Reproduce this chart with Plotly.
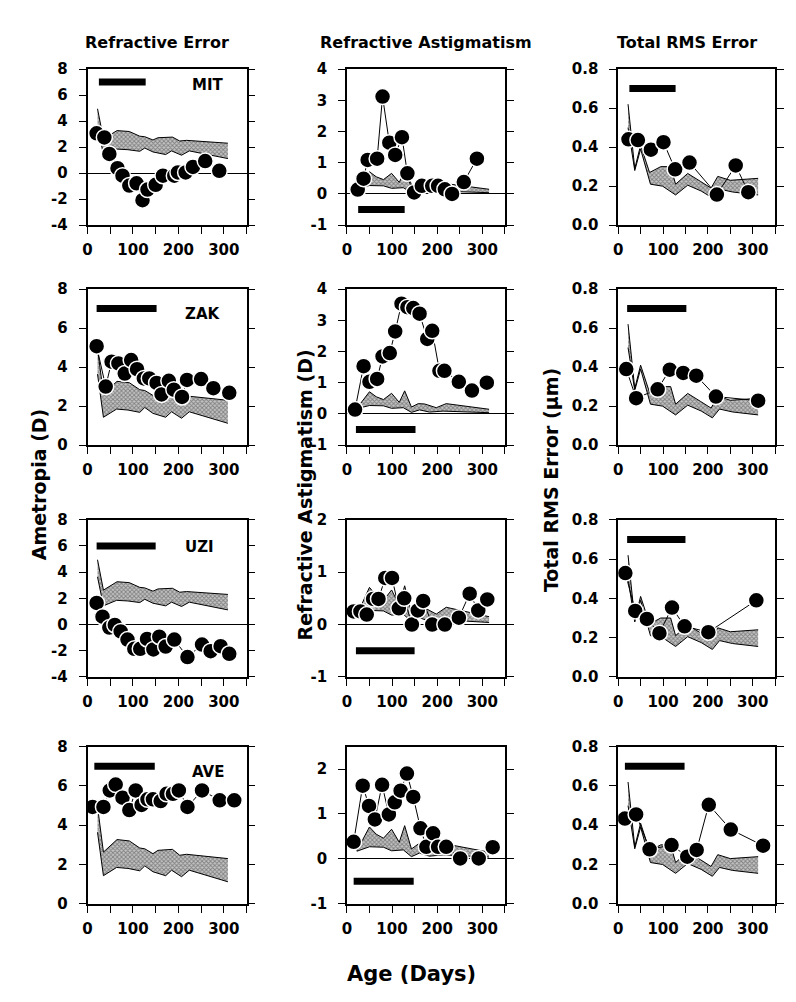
import plotly.graph_objects as go

# ---------------- data ----------------
subjects = ["MIT", "ZAK", "UZI", "AVE"]
col_titles = ["Refractive Error", "Refractive Astigmatism", "Total RMS Error"]

# Refractive error (D)
mit_re_x = [20, 37, 48, 66, 77, 92, 108, 121, 132, 150, 166, 191, 199, 216, 232, 259, 290]
mit_re_y = [3.06, 2.74, 1.48, 0.38, -0.2, -0.95, -0.78, -2.08, -1.26, -0.9, -0.2, -0.2, 0.05, 0.05, 0.48, 0.93, 0.18]
zak_re_x = [20, 40, 53, 68, 82, 96, 109, 124, 136, 152, 163, 179, 190, 208, 219, 250, 277, 312]
zak_re_y = [5.07, 3.0, 4.28, 4.19, 3.67, 4.36, 3.89, 3.42, 3.42, 3.19, 2.6, 3.3, 2.84, 2.47, 3.34, 3.39, 2.92, 2.68]
uzi_re_x = [20, 33, 48, 60, 73, 88, 103, 116, 131, 145, 158, 172, 191, 220, 252, 271, 293, 312]
uzi_re_y = [1.65, 0.6, -0.23, -0.03, -0.53, -1.15, -1.85, -1.85, -1.1, -1.9, -0.93, -1.68, -1.15, -2.48, -1.53, -2.03, -1.65, -2.23]
ave_re_x = [11, 35, 49, 62, 77, 92, 106, 119, 132, 144, 161, 174, 188, 201, 220, 252, 291, 323]
ave_re_y = [4.93, 4.93, 5.77, 6.07, 5.4, 4.77, 5.77, 5.03, 5.32, 5.32, 5.23, 5.6, 5.6, 5.77, 4.93, 5.77, 5.27, 5.27]

# Refractive astigmatism (D)
mit_as_x = [24, 37, 46, 67, 79, 94, 107, 122, 134, 149, 166, 189, 202, 217, 233, 259, 288]
mit_as_y = [0.14, 0.49, 1.09, 1.13, 3.12, 1.64, 1.25, 1.82, 0.66, 0.05, 0.26, 0.26, 0.26, 0.15, 0.0, 0.38, 1.13]
zak_as_x = [18, 37, 50, 67, 79, 95, 107, 121, 134, 147, 161, 178, 189, 205, 216, 248, 277, 310]
zak_as_y = [0.14, 1.53, 1.03, 1.12, 1.84, 1.95, 2.64, 3.53, 3.42, 3.39, 3.21, 2.4, 2.66, 1.38, 1.38, 1.03, 0.75, 1.0]
uzi_as_x = [15, 30, 44, 58, 70, 85, 100, 115, 127, 144, 157, 169, 189, 217, 248, 272, 291, 311]
uzi_as_y = [0.25, 0.25, 0.19, 0.49, 0.49, 0.89, 0.89, 0.31, 0.5, 0.0, 0.27, 0.45, 0.0, 0.0, 0.13, 0.59, 0.27, 0.48]
ave_as_x = [15, 35, 49, 62, 78, 93, 106, 119, 133, 147, 163, 176, 191, 202, 220, 251, 292, 323]
ave_as_y = [0.38, 1.63, 1.18, 0.88, 1.65, 0.99, 1.26, 1.52, 1.9, 1.38, 0.68, 0.27, 0.57, 0.27, 0.27, 0.01, 0.01, 0.26]

# Total RMS error (um)
mit_rms_x = [23, 44, 73, 101, 127, 159, 220, 262, 290]
mit_rms_y = [0.44, 0.436, 0.387, 0.425, 0.286, 0.321, 0.157, 0.306, 0.169]
zak_rms_x = [18, 40, 88, 115, 145, 174, 218, 312]
zak_rms_y = [0.39, 0.241, 0.286, 0.387, 0.37, 0.356, 0.249, 0.228]
uzi_rms_x = [16, 38, 64, 92, 120, 148, 201, 308]
uzi_rms_y = [0.529, 0.336, 0.295, 0.223, 0.353, 0.258, 0.228, 0.39]
ave_rms_x = [15, 40, 70, 119, 154, 175, 202, 251, 323]
ave_rms_y = [0.434, 0.455, 0.277, 0.299, 0.24, 0.274, 0.504, 0.378, 0.296]

# Normal-range bands (upper / lower bounds)
re_up_x = [22, 35, 65, 92, 115, 126, 144, 155, 187, 203, 218, 309]
re_up_y = [4.95, 2.63, 3.27, 3.2, 2.84, 2.8, 2.55, 2.72, 2.77, 2.47, 2.52, 2.3]
re_lo_x = [22, 35, 64, 89, 115, 126, 144, 172, 185, 207, 224, 309]
re_lo_y = [3.64, 1.43, 1.85, 1.8, 1.68, 1.93, 1.63, 1.43, 1.71, 1.38, 1.71, 1.12]
as_up_x = [22, 50, 65, 81, 99, 116, 128, 143, 158, 172, 198, 220, 315]
as_up_y = [0.18, 0.71, 0.55, 0.46, 0.66, 0.37, 0.74, 0.22, 0.33, 0.32, 0.2, 0.33, 0.15]
as_lo_x = [22, 50, 81, 99, 125, 143, 161, 183, 213, 264, 315]
as_lo_y = [0.17, 0.27, 0.26, 0.18, 0.2, 0.05, 0.13, 0.06, 0.09, 0.07, 0.04]
rms_up_x = [22, 37, 50, 70, 95, 117, 128, 155, 183, 207, 222, 250, 312]
rms_up_y = [0.62, 0.29, 0.41, 0.27, 0.30, 0.30, 0.21, 0.265, 0.225, 0.19, 0.25, 0.23, 0.24]
rms_lo_x = [22, 37, 50, 72, 99, 128, 155, 185, 210, 226, 255, 312]
rms_lo_y = [0.50, 0.28, 0.39, 0.21, 0.20, 0.155, 0.205, 0.175, 0.14, 0.185, 0.17, 0.155]

# Treatment period (days) per subject
treat_start = [25, 20, 20, 15]
treat_end = [128, 152, 150, 148]

# y tick ranges
re_ticks = [[-4, 8], [0, 8], [-4, 8], [0, 8]]
as_ticks = [[-1, 4], [-1, 4], [-1, 2], [-1, 2]]
rms_ticks = [[0, 0.8]] * 4
x_ticks = [0, 50, 100, 150, 200, 250, 300, 350]
x_labels = ["0", "", "100", "", "200", "", "300", ""]

# ---------------- figure ----------------
W, H = 796, 1002
FONT = "DejaVu Sans"
col_px = [(75, 235), (336, 495), (609, 767)]
row_px = [(53, 212), (277, 436), (512, 672), (743, 903)]

series = [
    [(mit_re_x, mit_re_y), (mit_as_x, mit_as_y), (mit_rms_x, mit_rms_y)],
    [(zak_re_x, zak_re_y), (zak_as_x, zak_as_y), (zak_rms_x, zak_rms_y)],
    [(uzi_re_x, uzi_re_y), (uzi_as_x, uzi_as_y), (uzi_rms_x, uzi_rms_y)],
    [(ave_re_x, ave_re_y), (ave_as_x, ave_as_y), (ave_rms_x, ave_rms_y)],
]
bands = [
    (re_up_x, re_up_y, re_lo_x, re_lo_y),
    (as_up_x, as_up_y, as_lo_x, as_lo_y),
    (rms_up_x, rms_up_y, rms_lo_x, rms_lo_y),
]
bar_y_row = [[7.0, -0.5, 0.7], [7.0, -0.5, 0.7], [6.0, -0.5, 0.7], [7.0, -0.5, 0.7]]


def tick_vals(lo, hi, step, nd):
    vals, texts = [], []
    n = int(round((hi - lo) / step))
    for k in range(n + 1):
        v = round(lo + k * step, 6)
        vals.append(v)
        texts.append(f"{v:.{nd}f}")
    return vals, texts


fig = go.Figure()
layout = {}
tickfont = dict(family=FONT, size=15, color="black", weight="bold")

for r in range(4):
    for c in range(3):
        i = r * 3 + c + 1
        xa = "x" if i == 1 else f"x{i}"
        ya = "y" if i == 1 else f"y{i}"
        ux, uy, lx, ly = bands[c]
        fig.add_trace(go.Scatter(
            x=ux + lx[::-1], y=uy + ly[::-1], fill="toself", mode="lines",
            line=dict(width=0, color="rgba(0,0,0,0)"),
            fillcolor="#b4b4b4",
            fillpattern=dict(shape="x", size=3, solidity=0.5, fgcolor="#3c3c3c", bgcolor="#c4c4c4"),
            xaxis=xa, yaxis=ya, hoverinfo="skip", showlegend=False))
        for bx, by in ((ux, uy), (lx, ly)):
            fig.add_trace(go.Scatter(x=bx, y=by, mode="lines", line=dict(color="black", width=1),
                                     xaxis=xa, yaxis=ya, hoverinfo="skip", showlegend=False))
        sx, sy = series[r][c]
        fig.add_trace(go.Scatter(
            x=sx, y=sy, mode="lines+markers",
            line=dict(color="black", width=1),
            marker=dict(size=16, color="black", line=dict(color="white", width=1.5)),
            xaxis=xa, yaxis=ya, showlegend=False))
        fig.add_shape(type="line", xref=xa, yref=ya, x0=treat_start[r], x1=treat_end[r],
                      y0=bar_y_row[r][c], y1=bar_y_row[r][c], line=dict(color="black", width=7))

        if c == 0:
            yr = re_ticks[r]; dt = 2; nd = 0
        elif c == 1:
            yr = as_ticks[r]; dt = 1; nd = 0
        else:
            yr = rms_ticks[r]; dt = 0.2; nd = 1
        tv, tt = tick_vals(yr[0], yr[1], dt, nd)
        yrange = list(yr)
        if c == 1 and r == 3:
            yrange = [-1, 2.5]
        x0, x1 = col_px[c]
        y0, y1 = row_px[r]
        layout["xaxis" if i == 1 else f"xaxis{i}"] = dict(
            domain=[x0 / W, x1 / W], range=[0, 350], anchor=ya,
            tickmode="array", tickvals=x_ticks, ticktext=x_labels,
            ticks="outside", ticklen=7, tickwidth=1.3, tickcolor="black",
            showline=True, linecolor="black", linewidth=1.5, mirror=True,
            showgrid=False, zeroline=False, tickfont=tickfont, ticklabelstandoff=3)
        layout["yaxis" if i == 1 else f"yaxis{i}"] = dict(
            domain=[1 - y1 / H, 1 - y0 / H], range=yrange, anchor=xa,
            tickmode="array", tickvals=tv, ticktext=tt,
            ticks="outside", ticklen=7, tickwidth=1.3, tickcolor="black",
            showline=True, linecolor="black", linewidth=1.5, mirror="ticks",
            showgrid=False, zeroline=True, zerolinecolor="black", zerolinewidth=1,
            tickfont=tickfont, ticklabelstandoff=8)

annotations = []
title_font = dict(family=FONT, size=16, color="black", weight="bold")
for txt, cx in zip(col_titles, [145, 416, 678]):
    annotations.append(dict(text=txt, x=cx / W, y=1 - 26 / H, xref="paper", yref="paper",
                            showarrow=False, font=title_font, xanchor="center", yanchor="middle"))
label_pos = [(265, 6.8), (252, 6.7), (247, 5.9), (265, 6.7)]
for r, name in enumerate(subjects):
    i = r * 3 + 1
    annotations.append(dict(text=name, x=label_pos[r][0], y=label_pos[r][1],
                            xref="x" if i == 1 else f"x{i}", yref="y" if i == 1 else f"y{i}",
                            showarrow=False, font=dict(family=FONT, size=15, color="black", weight="bold")))
axis_font = dict(family=FONT, size=19, color="black", weight="bold")
for txt, cx, cy in zip(["Ametropia (D)", "Refractive Astigmatism (D)", "Total RMS Error (\u03bcm)"],
                       [27, 294, 541], [476, 487, 472]):
    annotations.append(dict(text=txt, x=cx / W, y=1 - cy / H, xref="paper", yref="paper",
                            showarrow=False, font=axis_font, textangle=-90,
                            xanchor="center", yanchor="middle"))
annotations.append(dict(text="Age (Days)", x=401 / W, y=1 - 975 / H, xref="paper", yref="paper",
                        showarrow=False, font=dict(family=FONT, size=21, color="black", weight="bold"),
                        xanchor="center", yanchor="middle"))

fig.update_layout(width=W, height=H, margin=dict(l=0, r=0, t=0, b=0),
                  paper_bgcolor="white", plot_bgcolor="white", showlegend=False,
                  annotations=annotations, **layout)
fig.write_html("out.html")
